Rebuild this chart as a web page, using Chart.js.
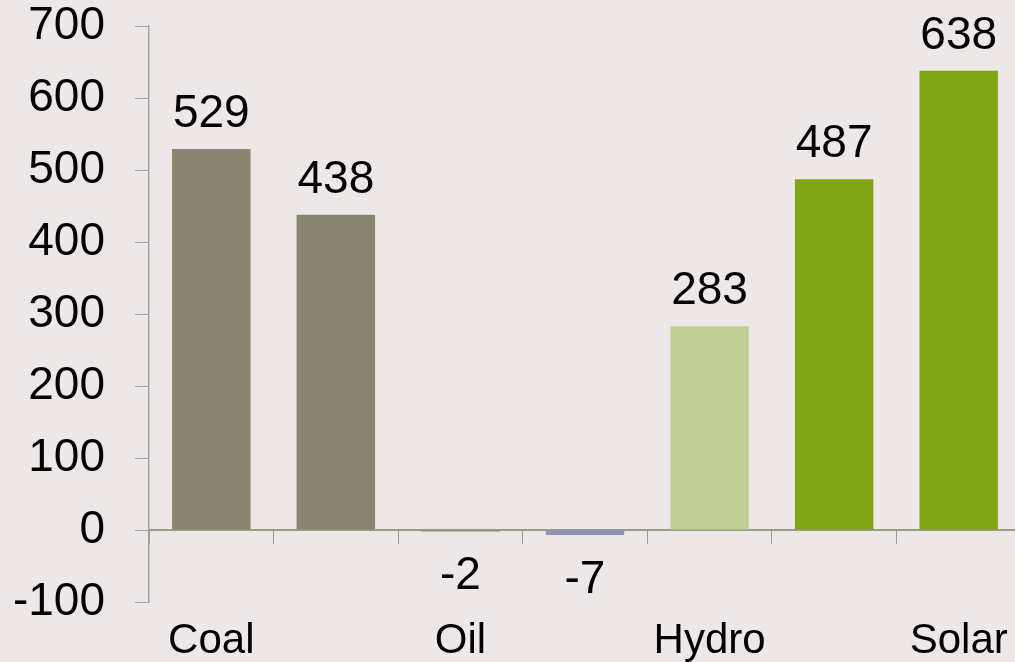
<!DOCTYPE html>
<html>
<head>
<meta charset="utf-8">
<script src="https://cdn.jsdelivr.net/npm/chart.js@4"></script>
<style>
  html, body { margin: 0; padding: 0; background: #ede8e7; overflow: hidden; }
  #wrap { width: 1022px; height: 662px; }
</style>
</head>
<body>
<div id="wrap"><canvas id="barChart"></canvas></div>
<script>
// chart data
const categories = ['Coal', '', 'Oil', '', 'Hydro', '', 'Solar'];
const values = [529, 438, -2, -7, 283, 487, 638];
const barColors = ['#888671', '#888671', '#888671', '#8a93b8', '#c3d093', '#82a514', '#82a514'];
const yTicks = [-100, 0, 100, 200, 300, 400, 500, 600, 700];

const FONT = "'Liberation Sans', Arial, sans-serif";

// value labels above / below each bar
const valueLabels = {
  id: 'valueLabels',
  afterDatasetsDraw(chart) {
    const ctx = chart.ctx;
    const meta = chart.getDatasetMeta(0);
    ctx.save();
    ctx.font = '46px ' + FONT;
    ctx.fillStyle = '#000';
    ctx.textAlign = 'center';
    ctx.textBaseline = 'alphabetic';
    meta.data.forEach((bar, i) => {
      const v = values[i];
      const y = v >= 0 ? bar.y - 22 : bar.y + 58;
      ctx.fillText(String(v), bar.x, y);
    });
    ctx.restore();
  }
};

new Chart(document.getElementById('barChart'), {
  type: 'bar',
  data: {
    labels: categories,
    datasets: [{
      data: values,
      backgroundColor: barColors,
      borderWidth: 0,
      barPercentage: 0.63,
      categoryPercentage: 1
    }]
  },
  options: {
    responsive: true,
    maintainAspectRatio: false,
    animation: false,
    layout: { padding: { top: 0, right: 1, bottom: 0, left: 0 } },
    scales: {
      y: {
        min: -100,
        max: 700,
        afterBuildTicks: (scale) => { scale.ticks = yTicks.map(v => ({ value: v })); },
        ticks: { color: '#000', font: { family: FONT, size: 46, lineHeight: 1.13 }, padding: 30 },
        grid: { drawOnChartArea: false, drawTicks: true, tickLength: 14, color: '#a3a3a3' },
        border: { display: true, color: '#a3a3a3', width: 1.5 },
        // fixed axis width, and no extra top padding from tick padding
        afterFit: (scale) => {
          scale.width = 149;
          scale.paddingTop = 26;
          scale.paddingBottom = 0;
        }
      },
      x: {
        position: 'bottom',
        ticks: { color: '#000', font: { family: FONT, size: 42 }, padding: 14, autoSkip: false, maxRotation: 0 },
        grid: { display: false, drawTicks: false },
        border: { display: false },
        afterFit: (scale) => { scale.height = 60; }
      },
      // zero line with category tick marks
      x0: {
        type: 'category',
        labels: categories,
        position: { y: 0 },
        offset: true,
        ticks: { display: false },
        grid: { drawOnChartArea: false, drawTicks: true, tickLength: 13, color: '#9c9a88', offset: true },
        border: { display: true, color: '#9c9a88', width: 2 },
        afterFit: (scale) => { scale.height = 0; }
      }
    },
    plugins: {
      legend: { display: false },
      tooltip: { enabled: false }
    }
  },
  plugins: [valueLabels]
});
</script>
</body>
</html>
